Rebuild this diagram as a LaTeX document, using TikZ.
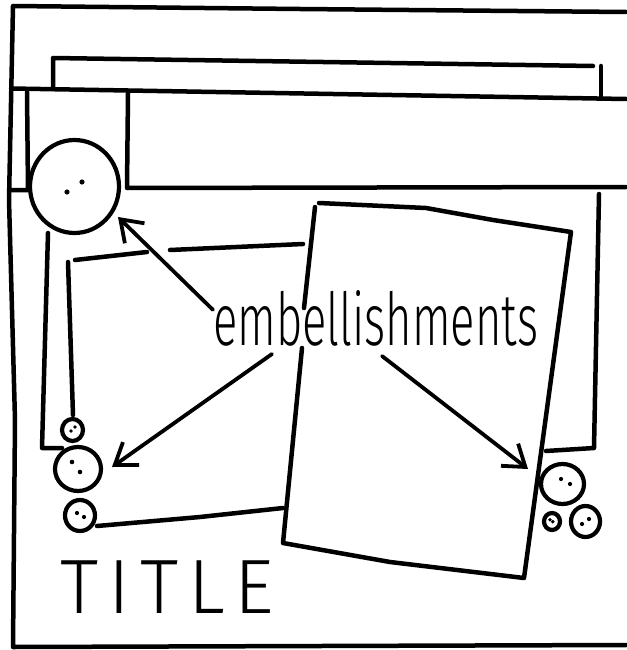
\documentclass[tikz,border=0pt]{standalone}
\usepackage{fontspec}
\newfontfamily\handfont{Fira Sans Light}
\usetikzlibrary{arrows.meta,shapes.geometric,calc}
\tikzset{
  pen/.style={line width=4.5pt,line cap=round,line join=round},
  arrow/.style={-{Straight Barb[length=20pt,width=28pt]},line width=3.8pt,line cap=round,line join=round},
  button/.style={draw,ellipse,line width=4.2pt,inner sep=0pt},
}
\begin{document}
\begin{tikzpicture}[x=1pt,y=-1pt]
  \useasboundingbox (0,0) rectangle (626,650);
  % outer frame
  \draw[pen] (626,12) -- (300,9) -- (13,6) -- (9,200) -- (15,420) -- (13,647) -- (626,645);
  % title strip and band
  \draw[pen] (53,89) -- (53,58) -- (593,66);
  \draw[pen] (601,66) -- (601,97);
  \draw[pen] (11,88.5) -- (626,99);
  \draw[pen] (128,93) -- (127,188) -- (626,187);
  \draw[pen] (27,92) -- (28,190) -- (10,190);
  % mat
  \draw[pen] (48,233) -- (42,448) -- (62,448);
  \draw[pen] (599,194) -- (594,448) -- (546,451);
  % inner panel
  \draw[pen] (68,262) -- (73,415);
  \draw[pen] (75,260) -- (147,252);
  \draw[pen] (170,250) -- (303,244);
  \draw[pen] (97,526) -- (200,517) -- (283,508);
  % photo
  \draw[pen] (304,308) -- (315,207);
  \draw[pen] (319,203) -- (426,208) -- (493,220) -- (571,232) -- (524,578)
    -- (390,562) -- (283,543) -- (302,348);
  % buttons
  \node[button,minimum width=89pt,minimum height=93pt] (bigbtn) at (74.5,186.5) {};
  \node[button,minimum width=21pt,minimum height=22pt] (btnA) at (72.5,430) {};
  \node[button,minimum width=46pt,minimum height=44pt] (btnB) at (78,469) {};
  \node[button,minimum width=30pt,minimum height=31pt] (btnC) at (80,515.5) {};
  \node[button,minimum width=43pt,minimum height=40pt] (btnD) at (562.5,484) {};
  \node[button,minimum width=16pt,minimum height=17pt] (btnE) at (552,521.5) {};
  \node[button,minimum width=29pt,minimum height=31pt] (btnF) at (585.5,521.5) {};
  \foreach \b/\dx/\dy/\r in {bigbtn/-7.5/5.5/2.6, bigbtn/7.5/-4.5/2.6,
      btnA/-1.5/1/1.8, btnA/2.5/-3/1.8, btnB/-6/-7/2.3, btnB/2/3/2.3,
      btnC/-3/-2.5/2.1, btnC/4/1.5/2.1, btnD/-1.5/-5/2.1, btnD/7.5/0/2.1,
      btnE/-2/-1.8/1.9, btnE/0.8/0.2/1.9, btnF/-3.5/2.5/2.1, btnF/3.5/-2.5/2.1}
    \fill ($(\b)+(\dx,\dy)$) circle (\r);
  % labels
  \node[inner sep=0pt,anchor=base west] (embel) at (213,345)
    {\resizebox{325pt}{55pt}{\handfont embellishments}};
  \node[inner sep=0pt,anchor=base west,font=\handfont\fontsize{77}{77}\selectfont] (title) at (60,613)
    {\addfontfeature{LetterSpace=13}TITLE};
  % arrows
  \coordinate (tip1) at ($(bigbtn)+(43.5,30.5)$);
  \coordinate (tip2) at ($(btnB)+(34,-2)$);
  \coordinate (tip3) at ($(btnD)+(-34.5,-15)$);
  \draw[arrow] ([yshift=8pt]embel.west) -- (tip1);
  \draw[arrow] ($(embel.south west)+(59,8)$) -- (tip2);
  \draw[arrow] ($(embel.south west)+(169,10)$) -- (tip3);
\end{tikzpicture}
\end{document}
